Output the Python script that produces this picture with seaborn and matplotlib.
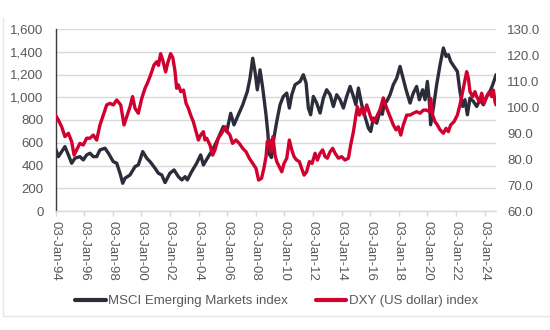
import matplotlib
matplotlib.use("Agg")
import matplotlib.pyplot as plt
from matplotlib.lines import Line2D
from matplotlib.ticker import FuncFormatter, FixedLocator, MultipleLocator
import seaborn as sns
import pandas as pd

# ---------------- data ----------------
msci_years = [1994.0, 1994.2, 1994.43, 1994.66, 1994.9, 1995.13, 1995.36, 1995.71, 1995.94,
              1996.18, 1996.41, 1996.64, 1996.88, 1997.11, 1997.46, 1997.7, 1998.04, 1998.28,
              1998.51, 1998.7, 1998.86, 1999.21, 1999.56, 1999.79, 2000.1, 2000.38, 2000.61,
              2000.96, 2001.19, 2001.43, 2001.66, 2002.0, 2002.29, 2002.59, 2002.83, 2003.06,
              2003.22, 2003.52, 2003.87, 2004.15, 2004.34, 2004.69, 2005.04, 2005.38, 2005.73,
              2005.97, 2006.25, 2006.48, 2006.78, 2007.09, 2007.41, 2007.6, 2007.79, 2007.95,
              2008.11, 2008.3, 2008.49, 2008.72, 2008.85, 2008.95, 2009.1, 2009.23, 2009.47,
              2009.7, 2009.93, 2010.17, 2010.35, 2010.52, 2010.75, 2011.1, 2011.33, 2011.52,
              2011.68, 2011.84, 2012.03, 2012.26, 2012.5, 2012.73, 2012.96, 2013.2, 2013.43,
              2013.66, 2013.9, 2014.13, 2014.36, 2014.6, 2014.83, 2015.0, 2015.18, 2015.41,
              2015.64, 2015.88, 2016.04, 2016.23, 2016.46, 2016.69, 2016.85, 2017.0, 2017.16,
              2017.39, 2017.62, 2017.86, 2018.09, 2018.27, 2018.51, 2018.79, 2019.02, 2019.25,
              2019.44, 2019.67, 2019.84, 2020.0, 2020.14, 2020.23, 2020.42, 2020.65, 2020.89,
              2021.12, 2021.31, 2021.47, 2021.63, 2021.86, 2022.1, 2022.28, 2022.47, 2022.63,
              2022.8, 2022.98, 2023.22, 2023.45, 2023.68, 2023.92, 2024.15, 2024.38, 2024.57,
              2024.73, 2024.8]
msci_values = [552, 478, 522, 566, 493, 420, 464, 478, 449,
               493, 508, 478, 478, 537, 552, 508, 434, 420,
               332, 244, 288, 317, 390, 405, 522, 464, 434,
               376, 332, 317, 250, 332, 361, 302, 273, 302,
               273, 346, 420, 493, 405, 478, 552, 640, 742,
               698, 859, 757, 845, 933, 1050, 1167, 1343, 1226,
               1065, 1241, 1080, 845, 680, 500, 470, 611, 787,
               934, 1007, 1037, 905, 1022, 1110, 1139, 1198, 1125,
               905, 846, 1007, 949, 861, 993, 1066, 1022, 919,
               1022, 978, 905, 1007, 1095, 1007, 934, 1081, 934,
               831, 728, 699, 817, 772, 880, 850, 950, 963,
               1022, 1110, 1169, 1271, 1183, 1066, 949, 1037, 1095,
               978, 1066, 978, 1139, 963, 758, 905, 1110, 1286,
               1433, 1359, 1374, 1315, 1271, 1227, 1051, 919, 978,
               846, 993, 963, 919, 978, 934, 1007, 1051, 1110,
               1169, 1198]

dxy_years = [1994.0, 1994.2, 1994.43, 1994.66, 1994.9, 1995.13, 1995.3, 1995.53, 1995.71,
             1995.94, 1996.18, 1996.41, 1996.64, 1996.88, 1997.11, 1997.34, 1997.58, 1997.81,
             1998.04, 1998.28, 1998.56, 1998.79, 1999.02, 1999.21, 1999.39, 1999.56, 1999.79,
             2000.03, 2000.26, 2000.42, 2000.56, 2000.73, 2000.89, 2001.08, 2001.2, 2001.35,
             2001.5, 2001.7, 2001.85, 2002.05, 2002.2, 2002.35, 2002.47, 2002.59, 2002.76,
             2002.95, 2003.13, 2003.29, 2003.45, 2003.64, 2003.83, 2003.99, 2004.15, 2004.34,
             2004.45, 2004.57, 2004.8, 2004.99, 2005.15, 2005.38, 2005.62, 2005.85, 2006.01,
             2006.2, 2006.38, 2006.62, 2006.85, 2007.09, 2007.32, 2007.55, 2007.79, 2008.02,
             2008.2, 2008.41, 2008.57, 2008.72, 2008.81, 2008.95, 2009.07, 2009.2, 2009.35,
             2009.47, 2009.65, 2009.82, 2009.98, 2010.17, 2010.35, 2010.52, 2010.68, 2010.86,
             2011.05, 2011.21, 2011.38, 2011.56, 2011.75, 2011.94, 2012.15, 2012.31, 2012.5,
             2012.68, 2012.85, 2013.01, 2013.2, 2013.38, 2013.55, 2013.78, 2014.01, 2014.24,
             2014.48, 2014.64, 2014.83, 2015.01, 2015.11, 2015.25, 2015.41, 2015.57, 2015.76,
             2015.95, 2016.11, 2016.27, 2016.46, 2016.69, 2016.92, 2017.16, 2017.39, 2017.62,
             2017.81, 2017.97, 2018.14, 2018.32, 2018.56, 2018.79, 2019.02, 2019.25, 2019.49,
             2019.72, 2019.95, 2020.14, 2020.23, 2020.37, 2020.54, 2020.7, 2020.89, 2021.12,
             2021.31, 2021.47, 2021.63, 2021.86, 2022.1, 2022.28, 2022.47, 2022.63, 2022.75,
             2022.87, 2022.98, 2023.17, 2023.33, 2023.45, 2023.64, 2023.8, 2023.96, 2024.15,
             2024.34, 2024.5, 2024.62, 2024.73, 2024.8]
dxy_values = [96.9, 95.0, 92.4, 88.6, 89.9, 86.7, 81.5, 84.1, 86.0,
              85.4, 88.0, 88.0, 89.2, 87.3, 93.1, 96.9, 100.8, 101.4,
              100.8, 102.7, 100.8, 93.1, 96.9, 100.1, 104.0, 99.5, 97.6,
              103.3, 107.2, 109.1, 111.0, 113.6, 116.2, 117.4, 116.0, 120.5,
              118.0, 113.5, 117.0, 120.5, 119.0, 114.0, 107.2, 108.5, 105.9,
              106.5, 101.4, 99.5, 96.9, 94.3, 90.5, 87.3, 89.2, 90.5,
              87.3, 88.0, 85.4, 81.5, 83.5, 88.0, 89.9, 92.4, 90.5,
              89.2, 86.0, 87.3, 86.0, 84.1, 82.8, 80.3, 78.3, 76.4,
              71.9, 72.6, 76.4, 80.9, 86.7, 87.3, 82.8, 88.6, 81.5,
              79.0, 77.0, 75.1, 78.3, 80.3, 87.3, 83.5, 80.9, 79.6,
              79.0, 76.4, 73.8, 75.1, 79.0, 78.3, 82.2, 79.6, 82.2,
              83.5, 80.9, 80.3, 82.8, 84.1, 82.2, 80.3, 80.9, 79.6,
              80.3, 85.4, 90.5, 96.9, 100.1, 96.9, 99.5, 96.9, 100.8,
              97.6, 95.0, 94.3, 96.3, 99.0, 103.5, 99.5, 96.3, 93.1,
              91.2, 92.4, 89.2, 93.1, 96.9, 96.9, 97.6, 98.2, 97.6,
              98.8, 98.8, 98.2, 103.3, 96.9, 94.3, 93.1, 91.2, 89.9,
              91.8, 90.5, 93.1, 94.3, 96.9, 100.8, 105.9, 110.4, 113.6,
              111.0, 105.9, 104.0, 105.9, 104.0, 102.0, 105.3, 101.4, 104.0,
              105.9, 104.0, 106.5, 102.0, 100.8]

tick_years = [1994, 1996, 1998, 2000, 2002, 2004, 2006, 2008, 2010, 2012, 2014, 2016,
              2018, 2020, 2022, 2024]
tick_labels = ["03-Jan-94", "03-Jan-96", "03-Jan-98", "03-Jan-00", "03-Jan-02", "03-Jan-04",
               "03-Jan-06", "03-Jan-08", "03-Jan-10", "03-Jan-12", "03-Jan-14", "03-Jan-16",
               "03-Jan-18", "03-Jan-20", "03-Jan-22", "03-Jan-24"]
series_names = ["MSCI Emerging Markets index", "DXY (US dollar) index"]

# ---------------- style ----------------
sns.set_style("white")
plt.rcParams["font.family"] = ["Liberation Sans", "DejaVu Sans"]
DARK = "#2c2d3b"
RED = "#d2002e"
TXT = "#595959"
GRID = "#d9d9d9"
FS = 9.5

msci_df = pd.DataFrame({"date": msci_years, "value": msci_values})
dxy_df = pd.DataFrame({"date": dxy_years, "value": dxy_values})

fig = plt.figure(figsize=(5.5, 3.3), dpi=100)
ax = fig.add_axes([55.5 / 550, 1 - 211 / 330, (496 - 55.5) / 550, (211 - 29) / 330])
ax2 = ax.twinx()

sns.lineplot(data=msci_df, x="date", y="value", ax=ax, color=DARK, linewidth=2.4)
sns.lineplot(data=dxy_df, x="date", y="value", ax=ax2, color=RED, linewidth=2.4)

# left axis
ax.set_ylim(0, 1600)
ax.yaxis.set_major_locator(MultipleLocator(200))
ax.yaxis.set_major_formatter(FuncFormatter(lambda v, p: f"{v:,.0f}"))
ax.grid(axis="y", color=GRID, linewidth=1.0)
ax.grid(axis="x", visible=False)
ax.set_axisbelow(True)

# right axis
ax2.set_ylim(60, 130)
ax2.yaxis.set_major_locator(MultipleLocator(10))
ax2.yaxis.set_major_formatter(FuncFormatter(lambda v, p: f"{v:.1f}"))
ax2.grid(False)

# x axis
ax.set_xlim(1994, 2024.8)
ax.xaxis.set_major_locator(FixedLocator(tick_years))
ax.set_xticklabels(tick_labels, rotation=270, ha="center", va="top")

for a in (ax, ax2):
    a.set_xlabel("")
    a.set_ylabel("")
    for s in a.spines.values():
        s.set_visible(False)

ax.spines["left"].set_visible(True)
ax.spines["left"].set_color("#3a3a3a")
ax.spines["left"].set_linewidth(1.0)
ax.spines["bottom"].set_visible(True)
ax.spines["bottom"].set_color(GRID)
ax.spines["bottom"].set_linewidth(1.0)

ax.tick_params(axis="y", length=0, pad=8.5, labelsize=FS, labelcolor=TXT)
ax.tick_params(axis="x", length=3.5, width=1.0, color=GRID, direction="out",
               pad=4, labelsize=FS, labelcolor=TXT, bottom=True)
ax2.tick_params(axis="y", length=0, pad=8, labelsize=FS, labelcolor=TXT)
ax2.patch.set_visible(False)

# legend
handles = [Line2D([0], [0], color=DARK, linewidth=3.0),
           Line2D([0], [0], color=RED, linewidth=3.0)]
fig.legend(handles, series_names, loc="center", bbox_to_anchor=(0.503, 1 - 301 / 330),
           ncol=2, frameon=False, fontsize=FS, handlelength=2.3, handletextpad=0.2,
           columnspacing=2.1, labelcolor=TXT)

# faint frame on the left / bottom
fig.add_artist(Line2D([3 / 550, 3 / 550], [1 - 18 / 330, 1 - 316 / 330],
                      transform=fig.transFigure, color="#e6e6e6", linewidth=1.0))
fig.add_artist(Line2D([3 / 550, 1.0], [1 - 316 / 330, 1 - 316 / 330],
                      transform=fig.transFigure, color="#e6e6e6", linewidth=1.0))

fig.savefig("out.png", dpi=100)
